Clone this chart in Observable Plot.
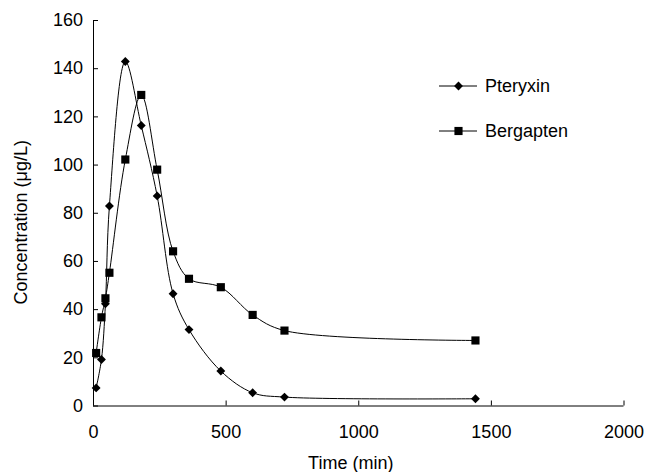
<!DOCTYPE html>
<html>
<head>
<meta charset="utf-8">
<script src="https://cdn.jsdelivr.net/npm/d3@7"></script>
<script src="https://cdn.jsdelivr.net/npm/@observablehq/plot@0.6"></script>
<style>
  body { margin: 0; background: #fff; }
  #chart svg { display: block; }
</style>
</head>
<body>
<div id="chart"></div>
<script>
// Sampling times (min)
const times = [10, 30, 45, 60, 120, 180, 240, 300, 360, 480, 600, 720, 1440];
// Concentrations (µg/L)
const pteryxin = [7.5, 19.3, 42.4, 83, 143, 116.4, 87.2, 46.6, 31.7, 14.5, 5.5, 3.7, 3.0];
const bergapten = [22, 36.8, 44.7, 55.3, 102.3, 129.1, 98.1, 64.2, 52.8, 49.3, 37.8, 31.3, 27.2];
const seriesNames = ["Pteryxin", "Bergapten"];
const xTicks = [0, 500, 1000, 1500, 2000];
const yTicks = [0, 20, 40, 60, 80, 100, 120, 140, 160];
const xTitle = "Time (min)";
const yTitle = "Concentration (μg/L)";

const pRows = times.map((t, i) => ({time: t, value: pteryxin[i], series: seriesNames[0]}));
const bRows = times.map((t, i) => ({time: t, value: bergapten[i], series: seriesNames[1]}));
const rows = pRows.concat(bRows);

const font = "'Liberation Sans', Arial, Helvetica, sans-serif";
const fs = 18;

const chart = Plot.plot({
  width: 648,
  height: 472,
  marginLeft: 93,
  marginRight: 24.5,
  marginTop: 20,
  marginBottom: 66.5,
  style: {fontFamily: font, fontSize: fs + "px", color: "black", background: "white", overflow: "visible"},
  x: {domain: [0, 2000], ticks: xTicks},
  y: {domain: [0, 160], ticks: yTicks},
  marks: [
    Plot.axisX({ticks: xTicks, tickFormat: d3.format("d"), tickSize: -5, tickPadding: 24, label: null, fontSize: fs}),
    Plot.axisY({ticks: yTicks, tickFormat: d3.format("d"), tickSize: -5, tickPadding: 15.5, label: null, fontSize: fs}),
    Plot.ruleX([0], {stroke: "black", strokeWidth: 1}),
    Plot.ruleY([0], {stroke: "black", strokeWidth: 1}),
    Plot.line(rows, {x: "time", y: "value", z: "series", curve: "catmull-rom", stroke: "black", strokeWidth: 1}),
    Plot.dot(pRows, {x: "time", y: "value", symbol: "diamond2", r: 4, fill: "black", stroke: "none"}),
    Plot.dot(bRows, {x: "time", y: "value", symbol: "square", r: 4.6, fill: "black", stroke: "none"}),
    Plot.text([xTitle], {text: d => d, frameAnchor: "bottom", lineAnchor: "middle", dy: 57.5, dx: -8, fontSize: fs, fill: "black"}),
    Plot.text([yTitle], {text: d => d, frameAnchor: "left", rotate: -90, lineAnchor: "middle", textAnchor: "middle", dx: -72.5, dy: 9, fontSize: fs, fill: "black"})
  ]
});

document.getElementById("chart").appendChild(chart);

// Legend inside the plot area (top right)
const svg = d3.select(chart);
const legend = svg.append("g").attr("font-family", font).attr("font-size", fs).attr("text-anchor", "start");
const symbolTypes = [d3.symbolDiamond2, d3.symbolSquare];
const symbolSizes = [Math.PI * 16, Math.PI * 4.6 * 4.6];
const legendX = 439, legendY = 86, legendGap = 45;
seriesNames.forEach((name, i) => {
  const g = legend.append("g").attr("transform", `translate(${legendX},${legendY + i * legendGap})`);
  g.append("line").attr("x1", 0).attr("x2", 38).attr("y1", 0).attr("y2", 0).attr("stroke", "black").attr("stroke-width", 1);
  g.append("path").attr("d", d3.symbol(symbolTypes[i], symbolSizes[i])()).attr("transform", "translate(19.5,0)").attr("fill", "black");
  g.append("text").attr("x", 46).attr("y", 0).attr("dy", "0.35em").attr("fill", "black").attr("text-anchor", "start").text(name);
});
</script>
</body>
</html>
